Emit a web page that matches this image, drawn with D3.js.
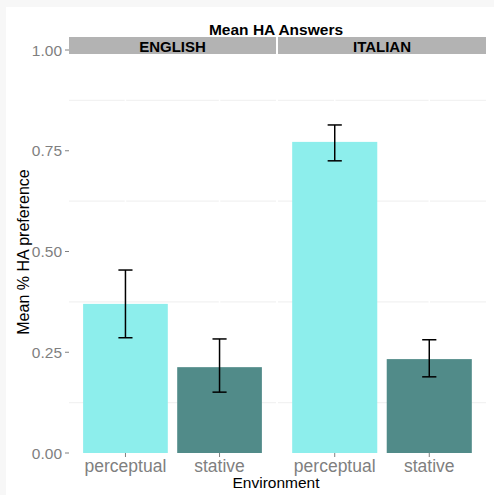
<!DOCTYPE html>
<html><head><meta charset="utf-8">
<script src="https://cdn.jsdelivr.net/npm/d3@7"></script>
<style>body{margin:0;background:#fff}svg{display:block}</style>
</head><body><div id="chart"></div>
<script>
const languages = ["ENGLISH", "ITALIAN"];
const environments = ["perceptual", "stative"];
const means = { ENGLISH: [0.370, 0.213], ITALIAN: [0.772, 0.233] };
const lowers = { ENGLISH: [0.286, 0.151], ITALIAN: [0.725, 0.189] };
const uppers = { ENGLISH: [0.454, 0.283], ITALIAN: [0.814, 0.281] };
const yTicks = [0, 0.25, 0.5, 0.75, 1.0];
const yMinor = [0.125, 0.375, 0.625, 0.875];
const colors = ["#8DEEEC", "#518B89"];

const W = 494, H = 495;
const svg = d3.select("#chart").append("svg").attr("width", W).attr("height", H)
  .style("font-family", "'Liberation Sans', Arial, sans-serif");
svg.append("rect").attr("width", W).attr("height", H).attr("fill", "#f7f7f7");
svg.append("rect").attr("x", 6).attr("y", 7).attr("width", W - 6).attr("height", H - 7).attr("fill", "#fff");

const panelTop = 50, panelBottom = 453;
const y = d3.scaleLinear().domain([0, 1]).range([panelBottom, panelTop]);
const panels = [[69, 276], [278, 486]];

languages.forEach((lang, i) => {
  const [x0, x1] = panels[i];
  const xLin = d3.scaleLinear().domain([0.4, 2.6]).range([x0, x1]);
  const g = svg.append("g");
  g.selectAll(".mg").data(yMinor).join("line")
    .attr("x1", x0).attr("x2", x1).attr("y1", d => y(d)).attr("y2", d => y(d))
    .attr("stroke", "#f2f2f2").attr("stroke-width", 1.2);
  g.selectAll(".Mg").data(yTicks).join("line")
    .attr("x1", x0).attr("x2", x1).attr("y1", d => y(d)).attr("y2", d => y(d))
    .attr("stroke", "#fff").attr("stroke-width", 1.5);
  g.selectAll(".vg").data(environments).join("line")
    .attr("x1", (d, j) => xLin(j + 1)).attr("x2", (d, j) => xLin(j + 1))
    .attr("y1", panelTop).attr("y2", panelBottom)
    .attr("stroke", "#fff").attr("stroke-width", 1.5);
  const bw = 0.9;
  g.selectAll(".bar").data(environments).join("rect")
    .attr("x", (d, j) => xLin(j + 1 - bw / 2))
    .attr("width", (d, j) => xLin(j + 1 + bw / 2) - xLin(j + 1 - bw / 2))
    .attr("y", (d, j) => y(means[lang][j]))
    .attr("height", (d, j) => y(0) - y(means[lang][j]))
    .attr("fill", (d, j) => colors[j]);
  const cw = 0.075;
  environments.forEach((e, j) => {
    const cx = xLin(j + 1);
    const lo = y(lowers[lang][j]), hi = y(uppers[lang][j]);
    g.append("line").attr("x1", cx).attr("x2", cx).attr("y1", lo).attr("y2", hi)
      .attr("stroke", "#000").attr("stroke-width", 1.5);
    [lo, hi].forEach(v => g.append("line")
      .attr("x1", xLin(j + 1 - cw)).attr("x2", xLin(j + 1 + cw)).attr("y1", v).attr("y2", v)
      .attr("stroke", "#000").attr("stroke-width", 1.5));
    g.append("line").attr("x1", cx).attr("x2", cx).attr("y1", panelBottom).attr("y2", panelBottom + 4)
      .attr("stroke", "#808080").attr("stroke-width", 1);
    g.append("text").attr("x", cx).attr("y", 472).attr("text-anchor", "middle")
      .attr("font-size", 17.5).attr("fill", "#7f7f7f").text(e);
  });
  svg.append("rect").attr("x", x0).attr("y", 37).attr("width", x1 - x0).attr("height", 17)
    .attr("fill", "#b3b3b3");
  svg.append("text").attr("x", (x0 + x1) / 2).attr("y", 51.5).attr("text-anchor", "middle")
    .attr("font-size", 15).attr("font-weight", "bold").attr("fill", "#000").text(lang);
});

const ya = svg.append("g");
ya.selectAll("line").data(yTicks).join("line")
  .attr("x1", 65).attr("x2", 69).attr("y1", d => y(d)).attr("y2", d => y(d))
  .attr("stroke", "#808080").attr("stroke-width", 1);
ya.selectAll("text").data(yTicks).join("text")
  .attr("x", 62).attr("y", d => y(d)).attr("dy", "0.36em").attr("text-anchor", "end")
  .attr("font-size", 15.5).attr("fill", "#7f7f7f").text(d => d3.format(".2f")(d));

svg.append("text").attr("x", 276).attr("y", 35).attr("text-anchor", "middle")
  .attr("font-size", 15.5).attr("font-weight", "bold").text("Mean HA Answers");
svg.append("text").attr("x", 276).attr("y", 488).attr("text-anchor", "middle")
  .attr("font-size", 15.5).text("Environment");
svg.append("text").attr("transform", "translate(29,252) rotate(-90)").attr("text-anchor", "middle")
  .attr("font-size", 16).text("Mean % HA preference");
</script></body></html>
